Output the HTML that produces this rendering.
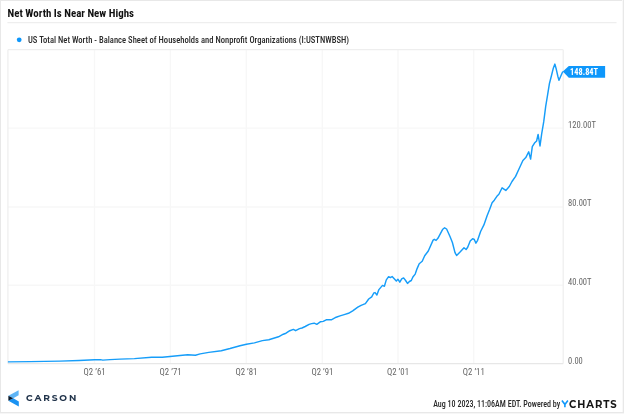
<!DOCTYPE html>
<html><head><meta charset="utf-8"><title>Net Worth Is Near New Highs</title>
<style>
html,body{margin:0;padding:0;background:#fff;}
body{width:624px;height:414px;overflow:hidden;}
svg{display:block;will-change:transform;}
.rc{font-family:"Roboto Condensed","Liberation Sans Narrow","Liberation Sans",sans-serif;}
</style></head><body>
<svg width="624" height="414" viewBox="0 0 624 414">
<rect x="0" y="0" width="624" height="414" fill="#fff"/>
<!-- outer frame -->
<rect x="0" y="0" width="624" height="1" fill="#e8e8e8"/>
<rect x="0" y="0" width="1" height="413" fill="#e8e8e8"/>
<rect x="623" y="0" width="1" height="413" fill="#e8e8e8"/>
<rect x="622" y="0" width="1" height="413" fill="#f8f8f8"/>
<rect x="0" y="412" width="624" height="1" fill="#e8e8e8"/>
<rect x="0" y="413" width="624" height="1" fill="#f6f6f6"/>
<!-- title -->
<text class="rc" x="7.6" y="16.8" font-size="11" font-weight="700" fill="#111" textLength="126.4" lengthAdjust="spacingAndGlyphs">Net Worth Is Near New Highs</text>
<line x1="7.4" y1="22.7" x2="616.5" y2="22.7" stroke="#eeeeee" stroke-width="1.3"/>
<!-- legend -->
<circle cx="19.2" cy="39.8" r="2.4" fill="#0e97fb"/>
<text class="rc" x="28" y="42.8" font-size="9" font-weight="500" fill="#2a2a2a" textLength="321" lengthAdjust="spacingAndGlyphs">US Total Net Worth - Balance Sheet of Households and Nonprofit Organizations (I:USTNWBSH)</text>
<!-- plot grid -->
<g stroke="#f7f7f7" stroke-width="1.4">
<line x1="94.5" y1="49.7" x2="94.5" y2="363.6"/>
<line x1="170.4" y1="49.7" x2="170.4" y2="363.6"/>
<line x1="246.3" y1="49.7" x2="246.3" y2="363.6"/>
<line x1="322.3" y1="49.7" x2="322.3" y2="363.6"/>
<line x1="398" y1="49.7" x2="398" y2="363.6"/>
<line x1="473.7" y1="49.7" x2="473.7" y2="363.6"/>
<line x1="7.9" y1="128.1" x2="563.2" y2="128.1"/>
<line x1="7.9" y1="207" x2="563.2" y2="207"/>
<line x1="7.9" y1="285.3" x2="563.2" y2="285.3"/>
</g>
<g stroke-width="1.3" fill="none">
<line x1="7.9" y1="49.7" x2="563.2" y2="49.7" stroke="#eeeeee"/>
<line x1="7.9" y1="49.7" x2="7.9" y2="363.6" stroke="#efefef"/>
<line x1="563.2" y1="49.7" x2="563.2" y2="363.6" stroke="#efefef"/>
<line x1="7.9" y1="363.6" x2="563.2" y2="363.6" stroke="#e7e7e7"/>
</g>
<!-- series -->
<path d="M7.9,361.9 L30.0,361.6 L60.0,361.1 L79.0,360.5 L94.6,359.8 L100.4,359.6 L102.8,360.1 L110.0,359.6 L120.0,359.1 L134.4,358.6 L151.7,357.3 L162.3,357.3 L170.0,356.5 L180.0,355.5 L187.7,354.8 L195.4,355.3 L200.2,353.9 L208.8,352.4 L221.3,350.7 L230.0,348.5 L240.0,345.7 L246.4,344.2 L254.4,342.9 L262.4,340.6 L268.8,339.7 L278.5,336.8 L283.3,334.2 L286.0,333.2 L289.8,330.7 L293.4,329.4 L295.6,330.7 L299.5,328.6 L302.0,328.0 L305.2,326.5 L309.1,324.4 L311.6,323.6 L314.2,323.2 L316.8,324.3 L320.6,321.7 L323.2,321.4 L326.2,319.8 L331.3,319.8 L336.2,317.2 L340.0,315.9 L344.2,314.6 L348.5,313.3 L352.7,310.8 L357.8,307.1 L361.1,305.3 L365.4,303.6 L368.7,299.0 L371.7,296.8 L373.8,293.0 L375.1,292.6 L376.9,295.0 L378.9,289.6 L382.5,285.4 L384.4,286.3 L386.3,279.9 L388.6,276.7 L390.5,277.6 L392.1,276.5 L394.0,278.6 L396.3,281.1 L397.9,279.2 L399.8,282.2 L401.7,278.9 L403.6,277.9 L405.6,280.5 L407.5,283.4 L409.4,281.5 L411.3,280.5 L412.9,277.0 L415.2,274.1 L417.1,268.6 L419.2,263.7 L422.2,261.3 L424.7,255.8 L428.3,251.0 L433.1,240.1 L434.3,239.3 L436.1,240.4 L437.9,238.3 L442.8,229.2 L444.6,227.8 L446.6,229.0 L450.0,236.5 L452.4,242.5 L455.0,252.6 L456.6,255.5 L460.3,251.8 L464.0,247.7 L466.1,249.5 L467.7,247.3 L470.2,241.1 L472.6,238.7 L474.3,239.5 L475.9,243.2 L477.6,240.3 L480.6,231.5 L483.9,224.9 L487.1,215.8 L489.7,209.3 L492.1,202.8 L494.3,200.2 L496.9,196.3 L498.9,194.3 L502.1,187.8 L505.8,190.4 L509.3,186.5 L512.0,181.5 L515.6,176.4 L519.2,168.5 L522.9,160.5 L525.8,157.6 L528.7,151.8 L530.6,159.1 L532.3,146.7 L534.5,143.1 L536.6,141.0 L538.1,134.4 L540.0,146.0 L541.7,133.7 L543.7,121.9 L545.7,106.4 L547.6,94.8 L549.5,83.2 L551.5,75.5 L553.2,68.6 L554.9,64.1 L556.3,69.3 L557.9,76.5 L559.0,80.2 L560.7,76.2 L562.8,71.5" fill="none" stroke="#169df9" stroke-width="1.45" stroke-linejoin="round" stroke-linecap="butt"/>
<!-- end label -->
<path d="M562.8,71.6 L568.8,65.9 L605.1,65.9 L605.1,77.8 L568.8,77.8 Z" fill="#0e97fb"/>
<text class="rc" x="570.1" y="74.8" font-size="8.2" font-weight="700" fill="#fff" textLength="28" lengthAdjust="spacingAndGlyphs">148.84T</text>
<!-- y labels -->
<g class="rc" font-size="9" fill="#666">
<text x="568" y="127.8" textLength="28" lengthAdjust="spacingAndGlyphs">120.00T</text>
<text x="568" y="205.9" textLength="23.5" lengthAdjust="spacingAndGlyphs">80.00T</text>
<text x="568" y="284.9" textLength="23.5" lengthAdjust="spacingAndGlyphs">40.00T</text>
<text x="568" y="363.8" textLength="14.8" lengthAdjust="spacingAndGlyphs">0.00</text>
</g>
<!-- x labels -->
<g class="rc" font-size="8.8" fill="#666" text-anchor="middle">
<text x="94.6" y="374.9" textLength="22" lengthAdjust="spacingAndGlyphs">Q2 ’61</text>
<text x="170.6" y="374.9" textLength="22" lengthAdjust="spacingAndGlyphs">Q2 ’71</text>
<text x="246.4" y="374.9" textLength="22" lengthAdjust="spacingAndGlyphs">Q2 ’81</text>
<text x="322.4" y="374.9" textLength="22" lengthAdjust="spacingAndGlyphs">Q2 ’91</text>
<text x="398" y="374.9" textLength="22" lengthAdjust="spacingAndGlyphs">Q2 ’01</text>
<text x="473.8" y="374.9" textLength="22" lengthAdjust="spacingAndGlyphs">Q2 ’11</text>
</g>
<!-- carson logo -->
<path d="M8.4,395.7 L18.6,390.2 L18.6,395.3 L13.3,398.2 Z" fill="#5fb5f6"/>
<path d="M8.4,400.8 L13.3,398.2 L18.8,401.5 L18.8,406.6 Z" fill="#1a92f2"/>
<path d="M8.4,395.7 L13.3,398.2 L8.4,400.8 Z" fill="#0b1a2c"/>
<text x="26.1" y="400.8" font-family="Montserrat,'Liberation Sans',sans-serif" font-weight="700" font-size="8" fill="#22344b" letter-spacing="1.6" textLength="52" lengthAdjust="spacingAndGlyphs">CARSON</text>
<!-- footer -->
<text class="rc" x="433.2" y="407.2" font-size="9" font-weight="500" fill="#2a2a2a" textLength="127" lengthAdjust="spacingAndGlyphs">Aug 10 2023, 11:06AM EDT. Powered by</text>
<path d="M561.9,400.6 L564.9,404.4 L564.9,407.3 M567.9,400.6 L564.9,404.4" fill="none" stroke="#0e97fb" stroke-width="1.6"/>
<text x="569.0" y="407.6" font-family="Montserrat,'Liberation Sans',sans-serif" font-weight="700" font-size="10" fill="#151515" letter-spacing="1.9" textLength="49.6" lengthAdjust="spacing">CHARTS</text>
</svg>
</body></html>
